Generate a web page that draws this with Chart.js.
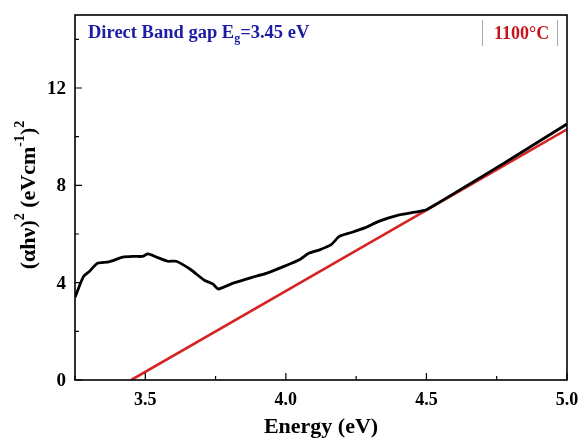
<!DOCTYPE html>
<html>
<head>
<meta charset="utf-8">
<script src="https://cdn.jsdelivr.net/npm/chart.js@4"></script>
<style>
  html,body{margin:0;padding:0;background:#fff;}
  #wrap{width:578px;height:439px;position:relative;}
</style>
</head>
<body>
<div id="wrap"><canvas id="tauc"></canvas></div>
<script>
// Tauc plot, sample annealed at 1100°C
const energy = [3.25, 3.28, 3.30, 3.33, 3.37, 3.42, 3.46, 3.49, 3.51, 3.54, 3.58, 3.61, 3.66, 3.71, 3.74, 3.76,
                3.81, 3.88, 3.93, 4.00, 4.05, 4.08, 4.12, 4.16, 4.19, 4.23, 4.28, 4.33, 4.40, 4.46,
                4.50, 4.60, 4.70, 4.80, 4.90, 5.00];
const alphaHv2 = [3.40, 4.25, 4.45, 4.80, 4.85, 5.05, 5.08, 5.08, 5.18, 5.05, 4.88, 4.88, 4.55, 4.10, 3.95, 3.74,
                  3.97, 4.22, 4.38, 4.70, 4.95, 5.20, 5.35, 5.55, 5.90, 6.05, 6.25, 6.52, 6.78, 6.90,
                  7.00, 7.68, 8.38, 9.08, 9.80, 10.52];

// linear fit extrapolated to the energy axis
const fitEnergy = [3.45, 5.00];
const fitValue = [0, 10.3];

const xTicks = [3.5, 4.0, 4.5, 5.0];
const xMinor = [3.25, 3.75, 4.25, 4.75];
const yTicks = [0, 4, 8, 12];
const yMinor = [2, 6, 10, 14];

const serif = '"Liberation Serif", "Times New Roman", serif';

const frame = {
  id: 'frame',
  afterDraw(chart){
    const {ctx, chartArea:a, scales:{x, y}} = chart;
    ctx.save();
    ctx.strokeStyle = '#000';
    ctx.lineWidth = 1.6;
    ctx.strokeRect(a.left, a.top, a.right - a.left, a.bottom - a.top);

    // inward ticks
    ctx.lineWidth = 1.2;
    ctx.beginPath();
    xTicks.forEach(v => { const px = x.getPixelForValue(v); ctx.moveTo(px, a.bottom); ctx.lineTo(px, a.bottom - 7); });
    xMinor.forEach(v => { const px = x.getPixelForValue(v); ctx.moveTo(px, a.bottom); ctx.lineTo(px, a.bottom - 4); });
    yTicks.forEach(v => { const py = y.getPixelForValue(v); ctx.moveTo(a.left, py); ctx.lineTo(a.left + 7, py); });
    yMinor.forEach(v => { const py = y.getPixelForValue(v); ctx.moveTo(a.left, py); ctx.lineTo(a.left + 4, py); });
    ctx.stroke();

    // tick labels
    ctx.fillStyle = '#000';
    ctx.font = 'bold 18px ' + serif;
    ctx.textAlign = 'center';
    ctx.textBaseline = 'middle';
    xTicks.forEach(v => ctx.fillText(v.toFixed(1), x.getPixelForValue(v), a.bottom + 20));
    ctx.font = 'bold 19px ' + serif;
    ctx.textAlign = 'right';
    yTicks.forEach(v => ctx.fillText(String(v), a.left - 9, y.getPixelForValue(v) + 1));

    // x title
    ctx.textAlign = 'center';
    ctx.font = 'bold 22px ' + serif;
    ctx.fillText('Energy (eV)', (a.left + a.right) / 2 + 0, 427);

    // y title with superscripts, rotated
    ctx.save();
    ctx.translate(29, 195);
    ctx.rotate(-Math.PI / 2);
    const parts = [
      ['(αhν)', 22, 0], ['2', 14, -9], [' (eVcm', 22, 0], ['-1', 14, -9], [')', 22, 0], ['2', 14, -9]
    ];
    let w = 0;
    parts.forEach(p => { ctx.font = 'bold ' + p[1] + 'px ' + serif; w += ctx.measureText(p[0]).width; });
    let cx = -w / 2;
    ctx.textAlign = 'left';
    parts.forEach(p => {
      ctx.font = 'bold ' + p[1] + 'px ' + serif;
      ctx.fillText(p[0], cx, p[2]);
      cx += ctx.measureText(p[0]).width;
    });
    ctx.restore();

    // band gap note
    ctx.textAlign = 'left';
    ctx.textBaseline = 'alphabetic';
    ctx.fillStyle = '#1c1ca4';
    let tx = 88;
    ctx.font = 'bold 18.5px ' + serif;
    ctx.fillText('Direct Band gap E', tx, 38);
    tx += ctx.measureText('Direct Band gap E').width;
    ctx.font = 'bold 12px ' + serif;
    ctx.fillText('g', tx, 42);
    tx += ctx.measureText('g').width;
    ctx.font = 'bold 18.5px ' + serif;
    ctx.fillText('=3.45 eV', tx, 38);

    // legend box edges and label
    ctx.strokeStyle = '#aaa';
    ctx.lineWidth = 1;
    ctx.beginPath();
    ctx.moveTo(482.5, 20); ctx.lineTo(482.5, 46);
    ctx.moveTo(557.5, 20); ctx.lineTo(557.5, 46);
    ctx.stroke();
    ctx.fillStyle = '#c4161c';
    ctx.font = 'bold 18px ' + serif;
    ctx.fillText('1100°C', 494, 39);
    ctx.restore();
  }
};

new Chart(document.getElementById('tauc'), {
  type: 'scatter',
  data: {
    datasets: [
      {
        label: 'data',
        data: energy.map((e, i) => ({x: e, y: alphaHv2[i]})),
        showLine: true,
        borderColor: '#000',
        borderWidth: 2.8,
        pointRadius: 0,
        tension: 0.2
      },
      {
        label: 'fit',
        data: fitEnergy.map((e, i) => ({x: e, y: fitValue[i]})),
        showLine: true,
        borderColor: '#d42424',
        borderWidth: 2.6,
        pointRadius: 0
      }
    ]
  },
  options: {
    responsive: true,
    maintainAspectRatio: false,
    animation: false,
    layout: { padding: { top: 15, right: 11, left: 0, bottom: 0 } },
    plugins: { legend: { display: false }, tooltip: { enabled: false } },
    scales: {
      x: {
        type: 'linear', min: 3.25, max: 5.0,
        grid: { display: false, drawTicks: false },
        border: { display: false },
        ticks: { display: false },
        afterFit(s){ s.height = 59; }
      },
      y: {
        type: 'linear', min: 0, max: 15,
        grid: { display: false, drawTicks: false },
        border: { display: false },
        ticks: { display: false },
        afterFit(s){ s.width = 75; }
      }
    }
  },
  plugins: [frame]
});
</script>
</body>
</html>
